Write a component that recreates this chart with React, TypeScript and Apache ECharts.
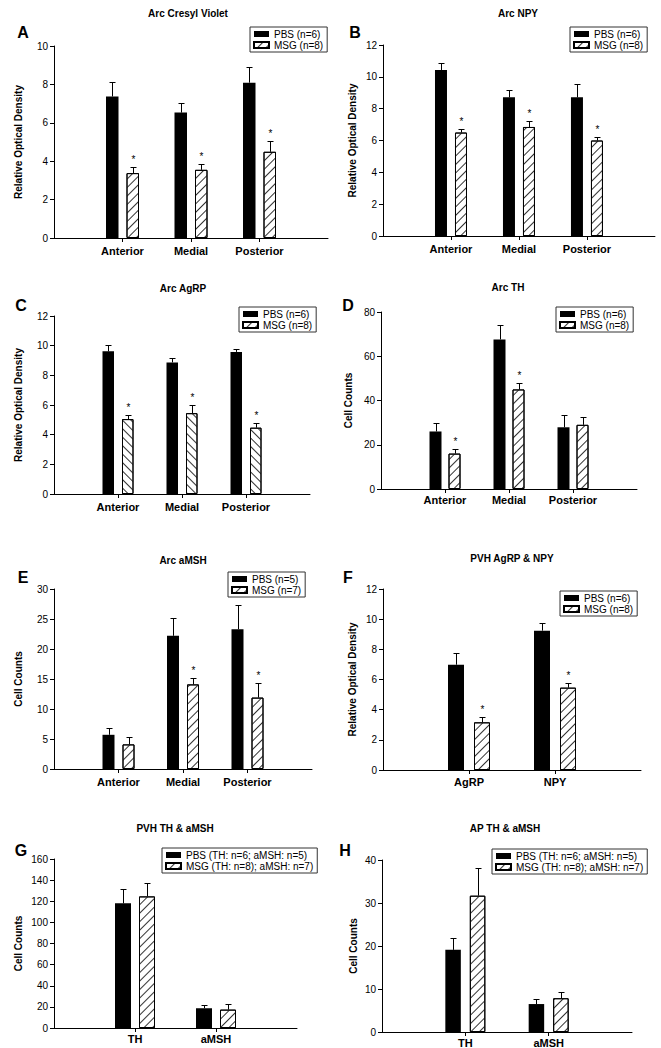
import React, { useEffect, useRef } from 'react';
import * as echarts from 'echarts';

const FONT = '"Liberation Sans", Arial, Helvetica, sans-serif';

// ---- categories ----
const regionCats = ['Anterior', 'Medial', 'Posterior'];
const pvhCats = ['AgRP', 'NPY'];
const thMshCats = ['TH', 'aMSH'];

// ---- A: Arc Cresyl Violet ----
const aPbs = [7.37, 6.53, 8.09];
const aPbsErr = [0.76, 0.52, 0.84];
const aMsg = [3.38, 3.55, 4.49];
const aMsgErr = [0.3, 0.33, 0.58];
const aSig = [1, 1, 1];

// ---- B: Arc NPY ----
const bPbs = [10.43, 8.71, 8.71];
const bPbsErr = [0.46, 0.46, 0.86];
const bMsg = [6.5, 6.85, 6.0];
const bMsgErr = [0.21, 0.38, 0.19];
const bSig = [1, 1, 1];

// ---- C: Arc AgRP ----
const cPbs = [9.62, 8.87, 9.58];
const cPbsErr = [0.44, 0.33, 0.22];
const cMsg = [5.05, 5.45, 4.47];
const cMsgErr = [0.28, 0.57, 0.3];
const cSig = [1, 1, 1];

// ---- D: Arc TH ----
const dPbs = [26.0, 67.6, 27.9];
const dPbsErr = [4.0, 6.6, 5.7];
const dMsg = [16.0, 45.0, 29.0];
const dMsgErr = [2.2, 2.7, 3.4];
const dSig = [1, 1, 0];

// ---- E: Arc aMSH ----
const ePbs = [5.7, 22.2, 23.3];
const ePbsErr = [1.1, 2.9, 4.0];
const eMsg = [4.1, 14.1, 11.9];
const eMsgErr = [1.3, 1.0, 2.4];
const eSig = [0, 1, 1];

// ---- F: PVH AgRP & NPY ----
const fPbs = [6.98, 9.24];
const fPbsErr = [0.75, 0.48];
const fMsg = [3.16, 5.46];
const fMsgErr = [0.35, 0.33];
const fSig = [1, 1];

// ---- G: PVH TH & aMSH ----
const gPbs = [118.0, 18.7];
const gPbsErr = [13.6, 2.8];
const gMsg = [124.6, 17.4];
const gMsgErr = [12.3, 5.1];
const gSig = [0, 0];

// ---- H: AP TH & aMSH ----
const hPbs = [19.1, 6.5];
const hPbsErr = [2.7, 1.1];
const hMsg = [31.7, 7.85];
const hMsgErr = [6.5, 1.55];
const hSig = [0, 0];

const OD = 'Relative Optical Density';
const CC = 'Cell Counts';

const panels = [
  { key: 'A', title: 'Arc Cresyl Violet', cats: regionCats, pbs: aPbs, pbsErr: aPbsErr, msg: aMsg, msgErr: aMsgErr, sig: aSig, yMax: 10, yInt: 2, yName: OD, pbsName: 'PBS (n=6)', msgName: 'MSG (n=8)', back: false },
  { key: 'B', title: 'Arc NPY', cats: regionCats, pbs: bPbs, pbsErr: bPbsErr, msg: bMsg, msgErr: bMsgErr, sig: bSig, yMax: 12, yInt: 2, yName: OD, pbsName: 'PBS (n=6)', msgName: 'MSG (n=8)', back: false },
  { key: 'C', title: 'Arc AgRP', cats: regionCats, pbs: cPbs, pbsErr: cPbsErr, msg: cMsg, msgErr: cMsgErr, sig: cSig, yMax: 12, yInt: 2, yName: OD, pbsName: 'PBS (n=6)', msgName: 'MSG (n=8)', back: true },
  { key: 'D', title: 'Arc TH', cats: regionCats, pbs: dPbs, pbsErr: dPbsErr, msg: dMsg, msgErr: dMsgErr, sig: dSig, yMax: 80, yInt: 20, yName: CC, pbsName: 'PBS (n=6)', msgName: 'MSG (n=8)', back: false },
  { key: 'E', title: 'Arc aMSH', cats: regionCats, pbs: ePbs, pbsErr: ePbsErr, msg: eMsg, msgErr: eMsgErr, sig: eSig, yMax: 30, yInt: 5, yName: CC, pbsName: 'PBS (n=5)', msgName: 'MSG (n=7)', back: false },
  { key: 'F', title: 'PVH AgRP & NPY', cats: pvhCats, pbs: fPbs, pbsErr: fPbsErr, msg: fMsg, msgErr: fMsgErr, sig: fSig, yMax: 12, yInt: 2, yName: OD, pbsName: 'PBS (n=6)', msgName: 'MSG (n=8)', back: false },
  { key: 'G', title: 'PVH TH & aMSH', cats: thMshCats, pbs: gPbs, pbsErr: gPbsErr, msg: gMsg, msgErr: gMsgErr, sig: gSig, yMax: 160, yInt: 20, yName: CC, pbsName: 'PBS (TH: n=6; aMSH: n=5)', msgName: 'MSG (TH: n=8); aMSH: n=7)', back: false },
  { key: 'H', title: 'AP TH & aMSH', cats: thMshCats, pbs: hPbs, pbsErr: hPbsErr, msg: hMsg, msgErr: hMsgErr, sig: hSig, yMax: 40, yInt: 10, yName: CC, pbsName: 'PBS (TH: n=6; aMSH: n=5)', msgName: 'MSG (TH: n=8); aMSH: n=7)', back: false },
];

// layout (pixels) per panel
const layouts: Record<string, any> = {
  A: { left: 54, top: 46, width: 274, height: 192, barW: 12.5, gap: 8, nameGap: 31, xm: 7, title: [188, 13], letter: [23, 32], legend: [250, 27] },
  B: { left: 383, top: 45, width: 273, height: 191, barW: 12, gap: 8, nameGap: 26, xm: 7, title: [518, 13], letter: [355, 32], legend: [570, 27] },
  C: { left: 54, top: 316, width: 256, height: 178, barW: 11.5, gap: 8, nameGap: 31, xm: 7, title: [183, 288], letter: [21, 305], legend: [239, 307] },
  D: { left: 381, top: 312, width: 256, height: 177, barW: 12, gap: 7, nameGap: 28, xm: 5, title: [508, 287], letter: [348, 305], legend: [556, 307] },
  E: { left: 54, top: 589, width: 258, height: 180, barW: 12, gap: 8, nameGap: 31, xm: 7, title: [183, 560], letter: [23, 577], legend: [228, 572] },
  F: { left: 383, top: 589, width: 258, height: 181, barW: 16, gap: 10, nameGap: 26, xm: 6, title: [512, 558], letter: [348, 577], legend: [560, 591] },
  G: { left: 54, top: 859, width: 243, height: 169, barW: 16, gap: 8, nameGap: 31, xm: 5, title: [175, 828], letter: [21, 850], legend: [162, 848] },
  H: { left: 382, top: 860, width: 250, height: 173, barW: 15.5, gap: 9, nameGap: 24, xm: 5, title: [505, 828], letter: [345, 850], legend: [492, 849] },
};

// rotation -PI/4 draws "/" hatching, +PI/4 draws "\" hatching
const fwdDecal = { symbol: 'rect', symbolSize: 1, dashArrayX: [1, 0], dashArrayY: [1, 5], rotation: -Math.PI / 4, color: '#333' };
const backDecal = { symbol: 'rect', symbolSize: 1, dashArrayX: [1, 0], dashArrayY: [1, 5], rotation: Math.PI / 4, color: '#333' };

function errorSeries(i: number, name: string, vals: number[], errs: number[], sig: number[] | null, offset: number) {
  return {
    type: 'custom',
    name,
    xAxisIndex: i,
    yAxisIndex: i,
    silent: true,
    z: 10,
    data: vals.map((v, j) => [j + 1, v, errs[j], sig ? sig[j] : 0]),
    renderItem: (params: any, api: any) => {
      const idx = api.value(0);
      const v = api.value(1);
      const e = api.value(2);
      const s = api.value(3);
      const base = api.coord([idx, v]);
      const tip = api.coord([idx, v + e]);
      const x = Math.round(base[0] + offset) + 0.5;
      const yTip = Math.round(tip[1]) + 0.5;
      const children: any[] = [
        { type: 'line', shape: { x1: x, y1: base[1], x2: x, y2: yTip }, style: { stroke: '#000', lineWidth: 1 } },
        { type: 'line', shape: { x1: x - 3, y1: yTip, x2: x + 3, y2: yTip }, style: { stroke: '#000', lineWidth: 1 } },
      ];
      if (s) {
        children.push({
          type: 'text',
          x: x,
          y: yTip - 8,
          style: { text: '*', fill: '#000', font: `10px ${FONT}`, align: 'center', verticalAlign: 'middle', textAlign: 'center', textVerticalAlign: 'middle' },
        });
      }
      return { type: 'group', children };
    },
  };
}

function buildOption() {
  const grid: any[] = [];
  const xAxis: any[] = [];
  const yAxis: any[] = [];
  const series: any[] = [];
  const legend: any[] = [];
  const graphic: any[] = [];

  panels.forEach((p, i) => {
    const L = layouts[p.key];
    grid.push({ left: L.left, top: L.top, width: L.width, height: L.height });
    const cats = [' ', ...p.cats, '  '];
    xAxis.push({
      type: 'category',
      gridIndex: i,
      data: cats,
      boundaryGap: false,
      axisLine: { lineStyle: { color: '#000', width: 1 } },
      axisTick: { show: true, length: 4, interval: (idx: number) => idx > 0 && idx < cats.length - 1, lineStyle: { color: '#000' } },
      axisLabel: { interval: 0, margin: L.xm, color: '#000', fontSize: 11, fontWeight: 'bold', fontFamily: FONT },
      splitLine: { show: false },
    });
    yAxis.push({
      type: 'value',
      gridIndex: i,
      min: 0,
      max: p.yMax,
      interval: p.yInt,
      axisLine: { show: true, lineStyle: { color: '#000', width: 1 } },
      axisTick: { show: true, length: 4, lineStyle: { color: '#000' } },
      axisLabel: { color: '#000', fontSize: 10, margin: 6, fontFamily: FONT },
      splitLine: { show: false },
      name: p.yName,
      nameLocation: 'middle',
      nameGap: L.nameGap,
      nameRotate: 90,
      nameTextStyle: { color: '#000', fontSize: 10, fontWeight: 'bold', fontFamily: FONT },
    });
    const off = (L.barW + L.gap) / 2;
    series.push({
      type: 'bar',
      name: p.pbsName,
      xAxisIndex: i,
      yAxisIndex: i,
      silent: true,
      barWidth: L.barW,
      barGap: `${(L.gap / L.barW) * 100}%`,
      itemStyle: { color: '#000' },
      data: p.pbs.map((v, j) => [j + 1, v]),
    });
    series.push({
      type: 'bar',
      name: p.msgName,
      xAxisIndex: i,
      yAxisIndex: i,
      silent: true,
      barWidth: L.barW,
      barGap: `${(L.gap / L.barW) * 100}%`,
      itemStyle: { color: '#fff', borderColor: '#000', borderWidth: 1, decal: p.back ? backDecal : fwdDecal },
      data: p.msg.map((v, j) => [j + 1, v]),
    });
    series.push(errorSeries(i, `err-${p.key}-pbs`, p.pbs, p.pbsErr, null, -off));
    series.push(errorSeries(i, `err-${p.key}-msg`, p.msg, p.msgErr, p.sig, off));

    legend.push({
      orient: 'vertical',
      left: L.legend[0],
      top: L.legend[1],
      data: [p.pbsName, p.msgName],
      icon: 'rect',
      itemWidth: 15,
      itemHeight: 6,
      itemGap: 1,
      padding: [2, 4, 2, 3],
      borderColor: '#333',
      borderWidth: 1,
      selectedMode: false,
      textStyle: { color: '#000', fontSize: 10, lineHeight: 10, fontFamily: FONT },
    });

    graphic.push({
      type: 'text',
      x: L.title[0],
      y: L.title[1],
      style: { text: p.title, fill: '#000', font: `bold 10px ${FONT}`, textAlign: 'center', textVerticalAlign: 'middle' },
    });
    graphic.push({
      type: 'text',
      x: L.letter[0],
      y: L.letter[1],
      style: { text: p.key, fill: '#000', font: `bold 16px ${FONT}`, textAlign: 'center', textVerticalAlign: 'middle' },
    });
  });

  return {
    animation: false,
    backgroundColor: '#fff',
    grid,
    xAxis,
    yAxis,
    series,
    legend,
    graphic,
  };
}

export default function App() {
  const ref = useRef<HTMLDivElement>(null);
  useEffect(() => {
    if (!ref.current) return;
    const chart = echarts.init(ref.current, undefined, { renderer: 'svg' });
    chart.setOption(buildOption() as any);
    return () => chart.dispose();
  }, []);
  return <div ref={ref} style={{ position: 'absolute', left: 0, top: 0, width: 661, height: 1048, background: '#fff' }} />;
}
